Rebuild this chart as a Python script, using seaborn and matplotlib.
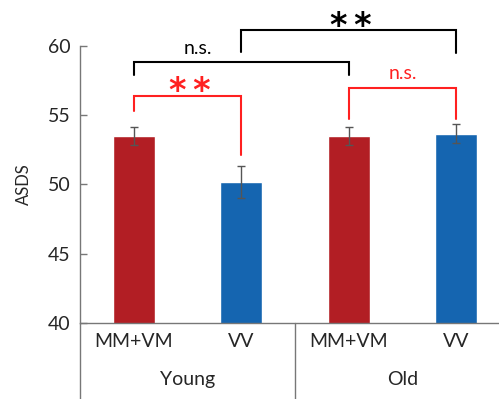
import pandas as pd
import matplotlib
matplotlib.use('Agg')
import matplotlib.pyplot as plt
import seaborn as sns

# values
groups = ['Young', 'Young', 'Old', 'Old']
conditions = ['MM+VM', 'VV', 'MM+VM', 'VV']
asds_mean = [53.5, 50.15, 53.5, 53.68]
asds_sem = [0.65, 1.15, 0.65, 0.68]

df = pd.DataFrame({'Group': groups, 'Condition': conditions,
                   'ASDS': asds_mean, 'SEM': asds_sem})
df['Key'] = df['Group'] + ' ' + df['Condition']

sns.set_style('white')
plt.rcParams['font.family'] = ['Lato', 'DejaVu Sans']

fig = plt.figure(figsize=(4.99, 3.99), dpi=100)
ax = fig.add_axes([80 / 499, 76 / 399, 430 / 499, 277 / 399])

palette = {'MM+VM': '#B21E24', 'VV': '#1565B0'}
sns.barplot(data=df, x='Key', y='ASDS', hue='Condition', palette=palette,
            errorbar=None, width=0.39, dodge=False, legend=False, ax=ax,
            saturation=1)
ax.errorbar(range(len(df)), df['ASDS'], yerr=df['SEM'], fmt='none',
            ecolor='#555555', elinewidth=1, capsize=3, capthick=1)

ax.set_ylim(40, 60)
ax.set_xlim(-0.5, 3.5)
ax.set_yticks([40, 45, 50, 55, 60])
ax.tick_params(axis='y', direction='in', length=5, width=1, color='#777777',
               labelsize=14, pad=7, left=True)
ax.set_xticks(range(len(df)))
ax.set_xticklabels(conditions)
ax.tick_params(axis='x', length=0, labelsize=14, pad=7)
ax.set_xlabel('')
ax.set_ylabel('ASDS', fontsize=12, labelpad=11)

for s in ['top', 'right']:
    ax.spines[s].set_visible(False)
for s in ['left', 'bottom']:
    ax.spines[s].set_color('#777777')
    ax.spines[s].set_linewidth(1)

# group separators and labels
low = 40 - 76 / 13.85
for xv in [-0.5, 1.5, 3.5]:
    ax.plot([xv, xv], [40, low], color='#777777', lw=1, clip_on=False)
ax.text(0.5, -0.205, 'Young', transform=ax.get_xaxis_transform(),
        ha='center', va='center', fontsize=14)
ax.text(2.5, -0.205, 'Old', transform=ax.get_xaxis_transform(),
        ha='center', va='center', fontsize=14)


def bracket(x1, x2, y, y1, y2, color):
    ax.plot([x1, x1, x2, x2], [y1, y, y, y2], color=color, lw=1.5,
            clip_on=False, solid_joinstyle='miter')


star = dict(ha='center', va='center', fontsize=24, fontweight='bold',
            family='DejaVu Sans')

bracket(0, 2, 58.85, 57.9, 57.9, 'black')
ax.text(0.6, 59.8, 'n.s.', ha='center', va='center', fontsize=14,
        color='black')
bracket(1, 3, 61.15, 59.57, 59.5, 'black')
ax.text(2.02, 61.4, '*\u2009*', color='black', **star)
bracket(0, 1, 56.39, 55.3, 52.13, '#FF2020')
ax.text(0.52, 56.7, '*\u2009*', color='#FF2020', **star)
bracket(2, 3, 56.97, 54.73, 54.73, '#FF2020')
ax.text(2.5, 58.05, 'n.s.', ha='center', va='center', fontsize=14,
        color='#FF2020')

fig.savefig('out.png', dpi=100)
